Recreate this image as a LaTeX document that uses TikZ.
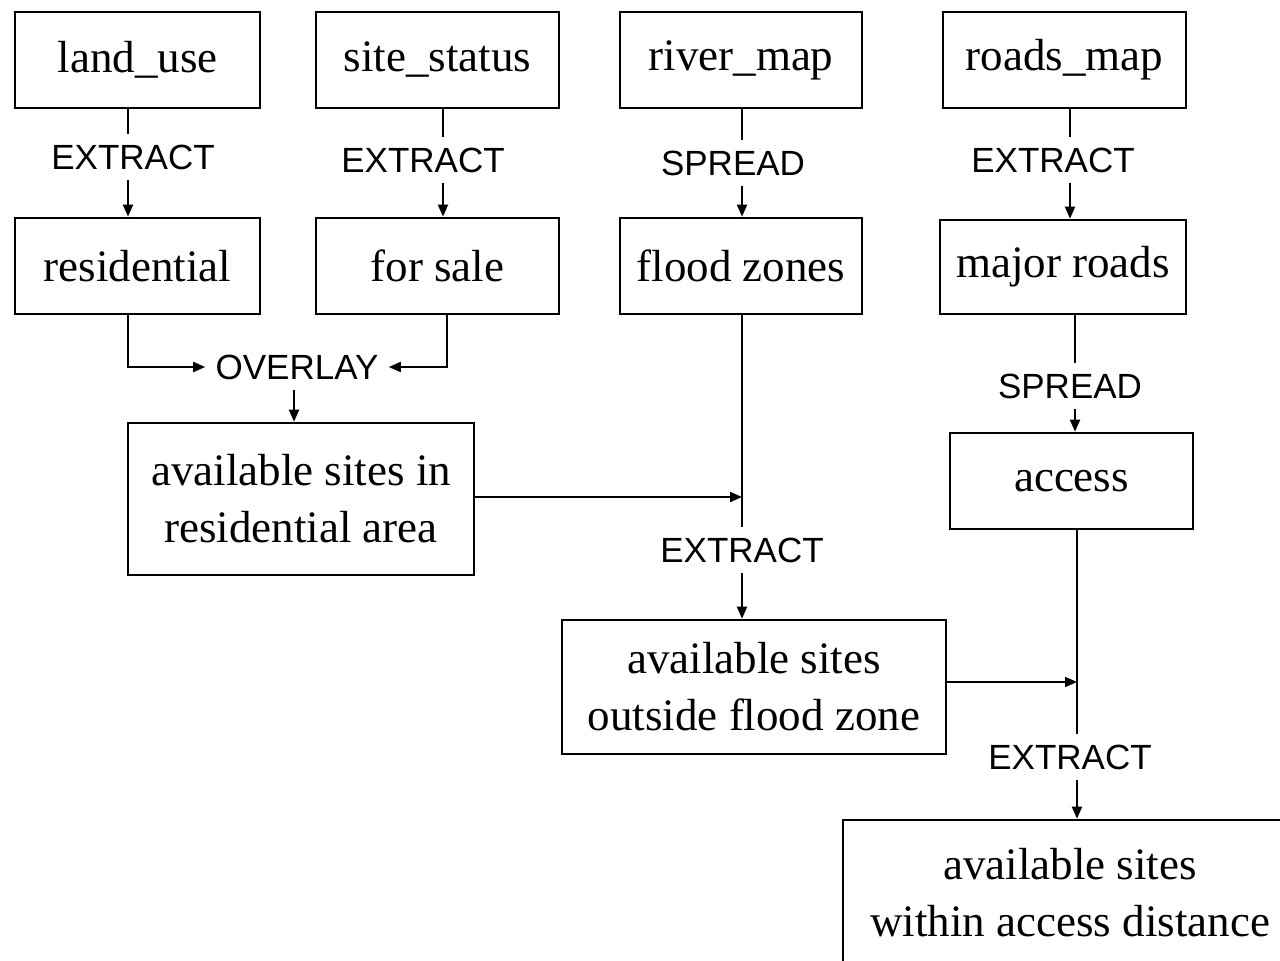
\documentclass[tikz,border=0pt]{standalone}
\usepackage{fontspec}
\setmainfont{Liberation Serif}
\newfontfamily\lblfont{Liberation Sans}
\usetikzlibrary{arrows.meta}
\begin{document}
\begin{tikzpicture}[x=0.5pt,y=-0.5pt,
  box/.style={draw,line width=1.3pt,inner sep=0pt,align=center,font=\fontsize{22.5}{28.5}\selectfont},
  lbl/.style={inner sep=5pt,font=\lblfont\fontsize{17.5}{20}\selectfont},
  con/.style={line width=1pt},
  arr/.style={line width=1pt,-{Triangle[length=6pt,width=5pt]}}]
\clip (0,0) rectangle (1280,961);
\fill[white] (0,0) rectangle (1280,961);
% top row
\node[box,minimum width=122.5pt,minimum height=48pt] (lu) at (137.5,60) {land\_use};
\node[box,minimum width=121.5pt,minimum height=48pt] (ss) at (437.5,60) {site\_status};
\node[box,minimum width=121pt,minimum height=48pt] (rm) at (741,60) {river\_map};
\node[box,minimum width=121.5pt,minimum height=48pt] (rd) at (1064.5,60) {roads\_map};
% second row
\node[box,minimum width=122.5pt,minimum height=48pt] (res) at (137.5,266) {residential};
\node[box,minimum width=121.5pt,minimum height=48pt] (fs) at (437.5,266) {for sale};
\node[box,minimum width=121pt,minimum height=48pt] (fz) at (741,266) {flood zones};
\node[box,minimum width=123pt,minimum height=47pt] (mr) at (1063,267) {major roads};
% lower boxes
\node[box,minimum width=173pt,minimum height=76pt] (avr) at (301,499) {available sites in\\residential area};
\node[box,minimum width=121.5pt,minimum height=48pt] (acc) at (1071.5,481) {access};
\node[box,minimum width=192pt,minimum height=67pt] (ofz) at (754,687) {available sites\\outside flood zone};
\node[box,minimum width=227pt,minimum height=73pt] (fin) at (1070,893) {available sites\\within access distance};
% labels
\node[lbl] (e1) at (133,157) {EXTRACT};
\node[lbl] (e2) at (423,160) {EXTRACT};
\node[lbl] (s1) at (733,163) {SPREAD};
\node[lbl] (e3) at (1053,160) {EXTRACT};
\node[lbl] (ov) at (297,367) {OVERLAY};
\node[lbl] (s2) at (1070,386) {SPREAD};
\node[lbl] (e4) at (742,550) {EXTRACT};
\node[lbl] (e5) at (1070,757) {EXTRACT};
% line positions
\coordinate (x1) at (128,0);
\coordinate (x2) at (443,0);
\coordinate (x3) at (742,0);
\coordinate (x4) at (1070,0);
\coordinate (x5) at (447,0);
\coordinate (x6) at (294,0);
\coordinate (x7) at (1075,0);
\coordinate (x8) at (1077,0);
\coordinate (j1) at (742,497);
\coordinate (j2) at (1077,682);
% connectors
\draw[con] (lu.south -| x1) -- (e1.north -| x1);
\draw[arr] (e1.south -| x1) -- (res.north -| x1);
\draw[con] (ss.south -| x2) -- (e2.north -| x2);
\draw[arr] (e2.south -| x2) -- (fs.north -| x2);
\draw[con] (rm.south -| x3) -- (s1.north -| x3);
\draw[arr] (s1.south -| x3) -- (fz.north -| x3);
\draw[con] (rd.south -| x4) -- (e3.north -| x4);
\draw[arr] (e3.south -| x4) -- (mr.north -| x4);
\draw[arr] (res.south -| x1) |- (ov.west);
\draw[arr] (fs.south -| x5) |- (ov.east);
\draw[arr] (ov.south -| x6) -- (avr.north -| x6);
\draw[con] (mr.south -| x7) -- (s2.north -| x7);
\draw[arr] (s2.south -| x7) -- (acc.north -| x7);
\draw[con] (fz.south -| x3) -- (e4.north -| x3);
\draw[arr] (avr.east |- j1) -- (j1);
\draw[arr] (e4.south -| x3) -- (ofz.north -| x3);
\draw[con] (acc.south -| x8) -- (e5.north -| x8);
\draw[arr] (ofz.east |- j2) -- (j2);
\draw[arr] (e5.south -| x8) -- (fin.north -| x8);
\end{tikzpicture}
\end{document}
